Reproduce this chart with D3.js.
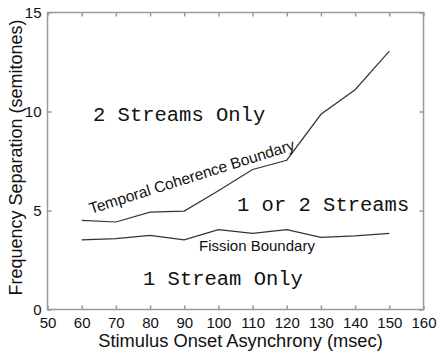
<!DOCTYPE html>
<html>
<head>
<meta charset="utf-8">
<script src="https://cdn.jsdelivr.net/npm/d3@7"></script>
<style>
  body { margin: 0; background: #fff; }
  svg { display: block; }
</style>
</head>
<body>
<div id="chart"></div>
<script>
// data
var soa = [60, 70, 80, 90, 100, 110, 120, 130, 140, 150];
var coherence = [4.5, 4.42, 4.92, 4.97, 6.0, 7.07, 7.54, 9.86, 11.1, 13.05];
var fission = [3.52, 3.58, 3.74, 3.52, 4.03, 3.84, 4.03, 3.64, 3.72, 3.84];
var xTicks = [50, 60, 70, 80, 90, 100, 110, 120, 130, 140, 150, 160];
var yTicks = [0, 5, 10, 15];

var width = 443, height = 358;
// plot box (window.top is reserved, so prefixed names)
var pLeft = 47.5, pRight = 423.5, pTop = 12.5, pBottom = 309.5;

var svg = d3.select("#chart").append("svg").attr("width", width).attr("height", height);

var x = d3.scaleLinear().domain([50, 160]).range([pLeft, pRight]);
var y = d3.scaleLinear().domain([0, 15]).range([pBottom, pTop]);

var axisCol = "#9a9a9a";
var sans = "Liberation Sans, Arial, sans-serif";

// frame
svg.append("rect")
  .attr("x", pLeft).attr("y", pTop)
  .attr("width", pRight - pLeft).attr("height", pBottom - pTop)
  .style("fill", "none").style("stroke", axisCol).style("stroke-width", 1.5);

// axes, MATLAB style ticks pointing inward
var xb = svg.append("g").attr("transform", "translate(0," + pBottom + ")")
  .call(d3.axisBottom(x).tickValues(xTicks).tickSizeInner(-4).tickSizeOuter(0).tickPadding(8));
var xt = svg.append("g").attr("transform", "translate(0," + pTop + ")")
  .call(d3.axisTop(x).tickValues(xTicks).tickSizeInner(-4).tickSizeOuter(0).tickFormat(""));
var yl = svg.append("g").attr("transform", "translate(" + pLeft + ",0)")
  .call(d3.axisLeft(y).tickValues(yTicks).tickSizeInner(-4).tickSizeOuter(0).tickPadding(6));
var yr = svg.append("g").attr("transform", "translate(" + pRight + ",0)")
  .call(d3.axisRight(y).tickValues(yTicks).tickSizeInner(-4).tickSizeOuter(0).tickFormat(""));

[xb, xt, yl, yr].forEach(function(g) {
  g.select(".domain").remove();
  g.selectAll("line").style("stroke", axisCol).style("stroke-width", 1.5);
  g.selectAll("text").style("font-family", sans).style("font-size", "15px").style("fill", "#111");
});

// lines
var line = d3.line()
  .x(function(d) { return x(d[0]); })
  .y(function(d) { return y(d[1]); });

svg.append("path")
  .datum(d3.zip(soa, coherence))
  .attr("d", line)
  .style("fill", "none").style("stroke", "#333").style("stroke-width", 1.2);

svg.append("path")
  .datum(d3.zip(soa, fission))
  .attr("d", line)
  .style("fill", "none").style("stroke", "#333").style("stroke-width", 1.2);

// region labels
var mono = "Liberation Mono, Courier New, monospace";
function regionText(t, px, py) {
  svg.append("text").attr("x", px).attr("y", py).text(t)
    .style("font-family", mono).style("font-size", "20.5px").style("fill", "#111");
}
regionText("2 Streams Only", 93, 121);
regionText("1 or 2 Streams", 237, 211);
regionText("1 Stream Only", 143, 285);

// boundary labels
svg.append("text").attr("x", 199).attr("y", 251).text("Fission Boundary")
  .style("font-family", sans).style("font-size", "15px").style("fill", "#111");

svg.append("text")
  .attr("transform", "translate(91,214) rotate(-17.5)")
  .text("Temporal Coherence Boundary")
  .style("font-family", sans).style("font-size", "15.5px").style("fill", "#111");

// axis titles
svg.append("text")
  .attr("x", (pLeft + pRight) / 2 + 5).attr("y", 347)
  .attr("text-anchor", "middle")
  .text("Stimulus Onset Asynchrony (msec)")
  .style("font-family", sans).style("font-size", "18.3px").style("fill", "#111");

svg.append("text")
  .attr("transform", "translate(22,157.5) rotate(-90)")
  .attr("text-anchor", "middle")
  .text("Frequency Separation (semitones)")
  .style("font-family", sans).style("font-size", "18px").style("fill", "#111");
</script>
</body>
</html>
